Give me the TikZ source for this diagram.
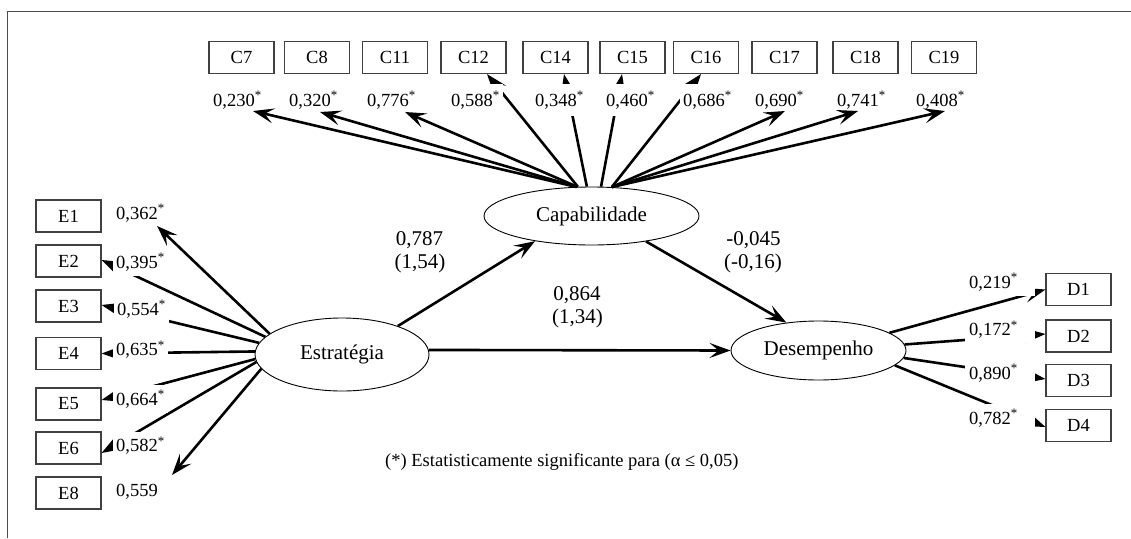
\documentclass[tikz,border=0pt]{standalone}
\usepackage{fontspec}
\setmainfont{Liberation Serif}
\usetikzlibrary{arrows.meta,shapes.geometric,calc}

\begin{document}
\begin{tikzpicture}[x=1pt,y=-1pt,
  ibox/.style={draw=black!75, line width=1.1pt, minimum width=65pt,
    minimum height=32pt, inner sep=0pt, font=\fontsize{18.5}{22}\selectfont},
  latent/.style={ellipse, draw, line width=0.9pt, inner sep=0pt,
    font=\fontsize{21}{25}\selectfont},
  load/.style={fill=white, inner xsep=3pt, inner ysep=5pt, anchor=base west,
    xshift=-3pt, font=\fontsize{18.5}{22}\selectfont},
  loadtop/.style={load, inner ysep=7pt},
  loadright/.style={load, inner xsep=4pt, xshift=-1pt, text width=62pt, align=left},
  coef/.style={anchor=base, inner sep=0pt, font=\fontsize{21}{25}\selectfont},
  link/.style={line width=2.6pt, -{Stealth[length=21pt,width=15pt,inset=9pt]}},
  note/.style={anchor=base west, inner sep=0pt, font=\fontsize{18.5}{22}\selectfont},
  frame/.style={draw=black!70, line width=1pt}
]
\useasboundingbox (0,0) rectangle (1131,538);

% frame edges
\draw[frame] (7.5,538) -- (7.5,11) -- (1131,11);

% latent variables
\node[latent, minimum width=215pt, minimum height=58pt] (cap) at (591.5,216) {Capabilidade};
\node[latent, minimum width=174pt, minimum height=73pt] (estr) at (342,354.5) {Estratégia};
\node[latent, minimum width=175pt, minimum height=59pt] (des) at (818.5,350.5) {Desempenho};

% indicators of Capabilidade
\node[ibox] (C7)  at (241.5,57.5) {C7};
\node[ibox] (C8)  at (317,57.5)   {C8};
\node[ibox] (C11) at (395,57.5)   {C11};
\node[ibox] (C12) at (473.5,57.5) {C12};
\node[ibox] (C14) at (555.5,57.5) {C14};
\node[ibox] (C15) at (632.5,57.5) {C15};
\node[ibox] (C16) at (706,57.5)   {C16};
\node[ibox] (C17) at (784.5,57.5) {C17};
\node[ibox] (C18) at (865.5,57.5) {C18};
\node[ibox] (C19) at (944,57.5)   {C19};

% indicators of Estratégia
\node[ibox] (E1) at (68.5,216)   {E1};
\node[ibox] (E2) at (68.5,261)   {E2};
\node[ibox] (E3) at (68.5,306)   {E3};
\node[ibox] (E4) at (68.5,353.5) {E4};
\node[ibox] (E5) at (68.5,404)   {E5};
\node[ibox] (E6) at (68.5,448)   {E6};
\node[ibox] (E8) at (68.5,493)   {E8};

% indicators of Desempenho
\node[ibox] (D1) at (1078.5,289.5) {D1};
\node[ibox] (D2) at (1078.5,336)   {D2};
\node[ibox] (D3) at (1078.5,380.5) {D3};
\node[ibox] (D4) at (1078.5,425.5) {D4};

% loadings that run up to the indicator boxes
\draw[link] (cap.115) -- ($(C12.south)+(13.5,0)$);
\draw[link] (cap.99)  -- ($(C14.south)+(8.5,0)$);
\draw[link] (cap.72)  -- ($(C15.south)+(-10.5,0)$);
\draw[link] (cap.55)  -- ($(C16.south)+(-5,0)$);

\draw[link] (estr.167) -- ($(E2.east)+(0,-1)$);
\draw[link] (estr.172) -- ($(E3.east)+(0,-1)$);
\draw[link] (estr.178) -- (E4.east);
\draw[link] (estr.183) -- ($(E5.east)+(0,-4)$);
\draw[link] (estr.185) -- ($(E6.east)+(0,5)$);

\draw[link] (des.14.5) -- (D1.west);
\draw[link] (des.4.8)  -- ($(D2.west)+(0,-2)$);
\draw[link] (des.-5.5) -- ($(D3.west)+(0,-1.5)$);
\draw[link] (des.-11.6) -- ($(D4.west)+(0,1.5)$);

% loading values
\node[loadtop] (l7)  at (213,106) {0,230\textsuperscript{*}};
\node[loadtop] (l8)  at (289,106) {0,320\textsuperscript{*}};
\node[loadtop] (l11) at (367,106) {0,776\textsuperscript{*}};
\node[loadtop] (l12) at (451,106) {0,588\textsuperscript{*}};
\node[loadtop] (l14) at (535,106) {0,348\textsuperscript{*}};
\node[loadtop] (l15) at (606,106) {0,460\textsuperscript{*}};
\node[loadtop] (l16) at (683,106) {0,686\textsuperscript{*}};
\node[loadtop] (l17) at (755,106) {0,690\textsuperscript{*}};
\node[loadtop] (l18) at (837,106) {0,741\textsuperscript{*}};
\node[loadtop] (l19) at (916,106) {0,408\textsuperscript{*}};

\node[load] (le1) at (116,219)   {0,362\textsuperscript{*}};
\node[load] (le2) at (116,268)   {0,395\textsuperscript{*}};
\node[load] (le3) at (117,315)   {0,554\textsuperscript{*}};
\node[load] (le4) at (116,355.5) {0,635\textsuperscript{*}};
\node[load] (le5) at (116,405)   {0,664\textsuperscript{*}};
\node[load] (le6) at (116,451.5) {0,582\textsuperscript{*}};
\node[load] (le8) at (116,496.5) {0,559};

\node[loadright] (ld1) at (969,288)   {0,219\textsuperscript{*}};
\node[loadright] (ld2) at (969,335.5) {0,172\textsuperscript{*}};
\node[loadright] (ld3) at (969,379)   {0,890\textsuperscript{*}};
\node[loadright] (ld4) at (969,424)   {0,782\textsuperscript{*}};

% loadings whose arrows stop at their values
\coordinate (tC7)  at (253,111);
\coordinate (tC8)  at (320,112);
\coordinate (tC11) at (405,112);
\coordinate (tC17) at (785,111);
\coordinate (tC18) at (858,111);
\coordinate (tC19) at (945,111);
\coordinate (tE1)  at (157,226);
\coordinate (tE8)  at (172,475);

\draw[link] (cap.118) -- (tC7);
\draw[link] (cap.117) -- (tC8);
\draw[link] (cap.116) -- (tC11);
\draw[link] (cap.55)  -- (tC17);
\draw[link] (cap.55)  -- (tC18);
\draw[link] (cap.55)  -- (tC19);
\draw[link] (estr.164) -- (tE1);
\draw[link] (estr.190) -- (tE8);

% structural paths
\draw[link] (estr.27) -- (cap.204);
\draw[link] (cap.-25) -- (des.139);
\draw[link] (estr.3)  -- (des.west);

\node[coef] (p1a) at (419.5,245) {0,787};
\node[coef] (p1b) at (420,268)   {(1,54)};
\node[coef] (p2a) at (577,300)   {0,864};
\node[coef] (p2b) at (577.5,323) {(1,34)};
\node[coef] (p3a) at (753.5,245) {-0,045};
\node[coef] (p3b) at (753,268)   {(-0,16)};

% footnote
\node[note] (fn) at (385,466) {(*) Estatisticamente significante para (α ≤ 0,05)};
\end{tikzpicture}
\end{document}
